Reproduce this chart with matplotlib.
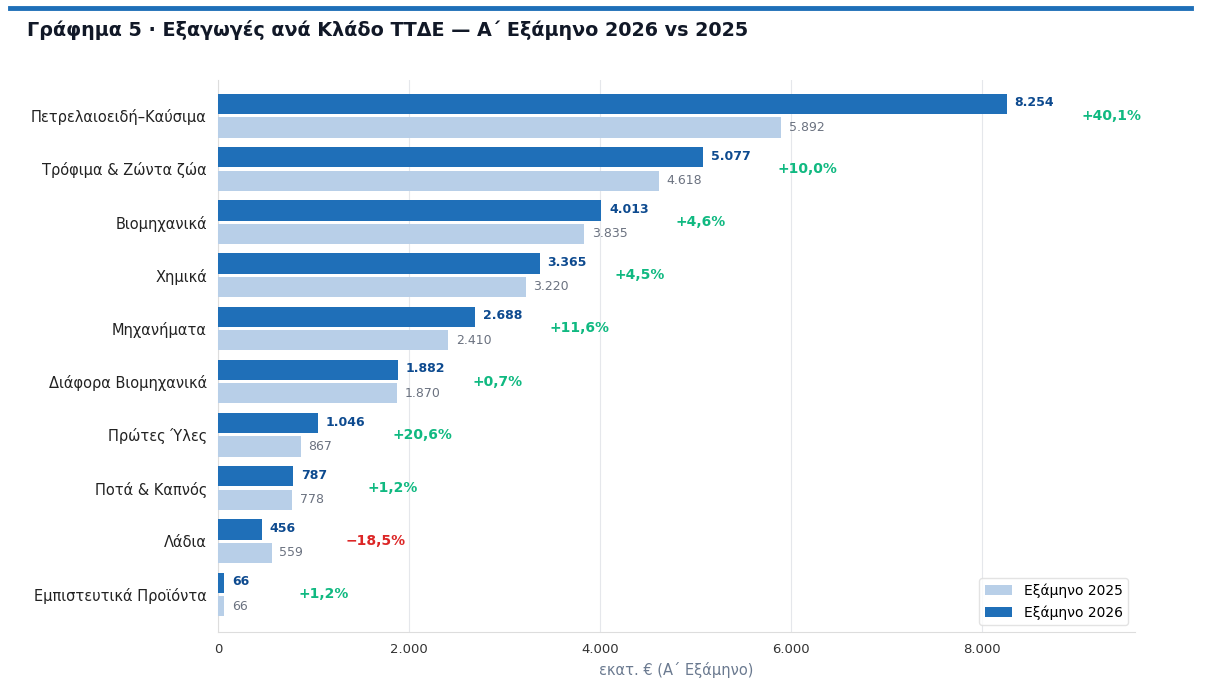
import matplotlib.pyplot as plt
import numpy as np

categories = ["Πετρελαιοειδή–Καύσιμα", "Τρόφιμα & Ζώντα ζώα", "Βιομηχανικά", "Χημικά",
              "Μηχανήματα", "Διάφορα Βιομηχανικά", "Πρώτες Ύλες", "Ποτά & Καπνός",
              "Λάδια", "Εμπιστευτικά Προϊόντα"]
v2025 = [5892, 4618, 3835, 3220, 2410, 1870, 867, 778, 559, 66]
v2026 = [8254, 5077, 4013, 3365, 2688, 1882, 1046, 787, 456, 66]
pct_labels = ["+40,1%", "+10,0%", "+4,6%", "+4,5%", "+11,6%", "+0,7%", "+20,6%", "+1,2%", "−18,5%", "+1,2%"]


def fmt(v):
    return f"{v:,}".replace(",", ".")


fig = plt.figure(figsize=(12.05, 6.79), dpi=100)
ax = fig.add_axes([0.181, 0.069, 0.761, 0.813])

y = np.arange(len(categories))
h = 0.38
dark = "#1f6fb8"
light = "#b8cfe8"
ax.barh(y + 0.22, v2025, height=h, color=light, label="Εξάμηνο 2025", zorder=3)
ax.barh(y - 0.22, v2026, height=h, color=dark, label="Εξάμηνο 2026", zorder=3)

for i in range(len(categories)):
    ax.text(v2026[i] + 80, y[i] - 0.24, fmt(v2026[i]), va="center", ha="left",
            fontsize=9, fontweight="bold", color="#0d4a8f")
    ax.text(v2025[i] + 80, y[i] + 0.22, fmt(v2025[i]), va="center", ha="left",
            fontsize=9, color="#6b7280")
    col = "#dc2626" if pct_labels[i].startswith("−") else "#10b981"
    ax.text(max(v2025[i], v2026[i]) + 780, y[i], pct_labels[i], va="center", ha="left",
            fontsize=10, fontweight="bold", color=col)

ax.set_yticks(y)
ax.set_yticklabels(categories, fontsize=10.5, color="#222222")
ax.invert_yaxis()
ax.set_ylim(9.71, -0.67)
ax.set_xlim(0, 9600)
ax.set_xticks([0, 2000, 4000, 6000, 8000])
ax.set_xticklabels([fmt(t) for t in [0, 2000, 4000, 6000, 8000]], fontsize=9.5, color="#333333")
ax.set_xlabel("εκατ. € (Α΄ Εξάμηνο)", fontsize=10.5, color="#6b7a90")
ax.grid(axis="x", color="#e5e7eb", linewidth=0.8, zorder=0)
ax.tick_params(length=0, pad=8)
for s in ["top", "right"]:
    ax.spines[s].set_visible(False)
ax.spines["left"].set_color("#dddddd")
ax.spines["bottom"].set_color("#dddddd")

ax.legend(loc="lower right", fontsize=10, frameon=True, edgecolor="#dddddd")

fig.add_artist(plt.Line2D([0.008, 0.988], [0.988, 0.988], color=dark, linewidth=3.5))
fig.text(0.022, 0.956, "Γράφημα 5 · Εξαγωγές ανά Κλάδο ΤΤΔΕ — Α΄ Εξάμηνο 2026 vs 2025",
         fontsize=13.8, fontweight="bold", color="#111827", va="center")

fig.savefig("out.png", dpi=100)
